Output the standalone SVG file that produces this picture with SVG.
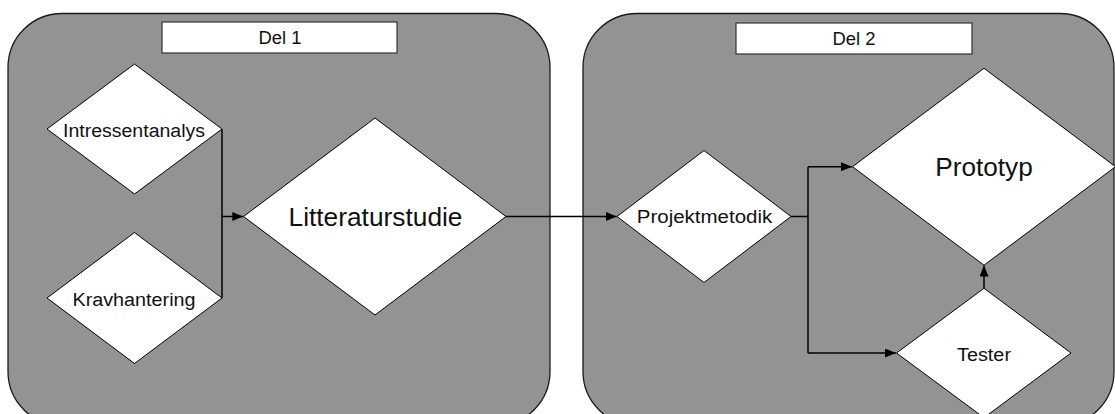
<svg xmlns="http://www.w3.org/2000/svg" width="1115" height="414" viewBox="0 0 1115 414">
  <defs>
    <marker id="arrow" viewBox="0 0 11 9" refX="11" refY="4.5" markerWidth="11" markerHeight="9" markerUnits="userSpaceOnUse" orient="auto">
      <path d="M0,0 L11,4.5 L0,9 Z" fill="#000"/>
    </marker>
    <style>
      .panel { fill: #939393; stroke: #1a1a1a; stroke-width: 1.3; }
      .label-box { fill: #ffffff; stroke: #333; stroke-width: 1.2; }
      .step { fill: #ffffff; stroke: #000; stroke-width: 1; }
      .link { fill: none; stroke: #000; stroke-width: 1.5; }
      text { font-family: "Liberation Sans", Arial, sans-serif; fill: #111; text-anchor: middle; }
      .small { font-size: 18px; }
      .big { font-size: 26px; }
    </style>
  </defs>

  <!-- Phase panels -->
  <g id="del1">
    <rect class="panel" x="8" y="13.5" width="542" height="412" rx="54" ry="54"/>
    <rect class="label-box" x="162" y="22" width="235" height="31"/>
    <text class="small" x="280" y="44" textLength="43" lengthAdjust="spacingAndGlyphs">Del 1</text>
  </g>
  <g id="del2">
    <rect class="panel" x="583" y="13.5" width="531" height="412" rx="54" ry="54"/>
    <rect class="label-box" x="736" y="23" width="236" height="31"/>
    <text class="small" x="854" y="45" textLength="43" lengthAdjust="spacingAndGlyphs">Del 2</text>
  </g>

  <!-- Connectors -->
  <g id="connectors">
    <path class="link" d="M222,129 V298"/>
    <path class="link" d="M222,216.5 H243.3" marker-end="url(#arrow)"/>
    <path class="link" d="M506,216.5 H616.7" marker-end="url(#arrow)"/>
    <path class="link" d="M791,216.5 H808 M808,166.7 V353"/>
    <path class="link" d="M808,166.7 H852" marker-end="url(#arrow)"/>
    <path class="link" d="M808,353 H896" marker-end="url(#arrow)"/>
    <path class="link" d="M984,288.3 V265.5" marker-end="url(#arrow)"/>
  </g>

  <!-- Steps -->
  <g id="intressentanalys">
    <polygon class="step" points="134.5,64 222,129 134.5,194 47,129"/>
    <text class="small" x="134" y="136.7" textLength="142" lengthAdjust="spacingAndGlyphs">Intressentanalys</text>
  </g>
  <g id="kravhantering">
    <polygon class="step" points="134.5,232.5 222,298 134.5,363.5 47,298"/>
    <text class="small" x="134" y="306" textLength="123" lengthAdjust="spacingAndGlyphs">Kravhantering</text>
  </g>
  <g id="litteraturstudie">
    <polygon class="step" points="375,118 506,216.5 375,315 243.5,216.5"/>
    <text class="big" x="375.5" y="226" textLength="174" lengthAdjust="spacingAndGlyphs">Litteraturstudie</text>
  </g>
  <g id="projektmetodik">
    <polygon class="step" points="704,150.5 791,216.5 704,282.5 617,216.5"/>
    <text class="small" x="704.5" y="223.3" textLength="135.5" lengthAdjust="spacingAndGlyphs">Projektmetodik</text>
  </g>
  <g id="prototyp">
    <polygon class="step" points="984,68.3 1115.5,166.7 984,265.2 852.5,166.7"/>
    <text class="big" x="984" y="175.5" textLength="97.5" lengthAdjust="spacingAndGlyphs">Prototyp</text>
  </g>
  <g id="tester">
    <polygon class="step" points="984,288.3 1071,353 984,417.7 896.5,353"/>
    <text class="small" x="984" y="360.7" textLength="54" lengthAdjust="spacingAndGlyphs">Tester</text>
  </g>
</svg>
